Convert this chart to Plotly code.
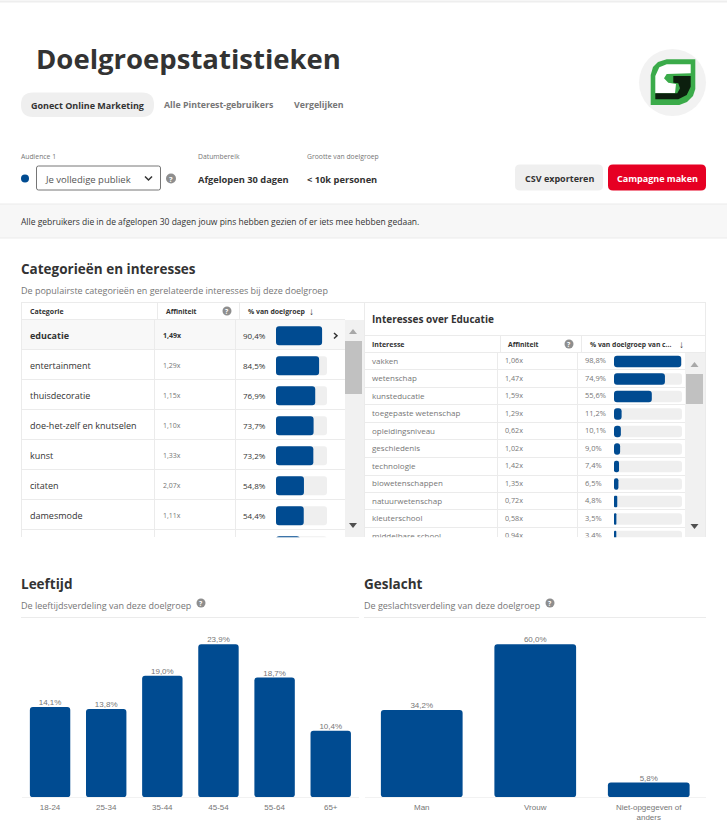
import plotly.graph_objects as go

W, H = 727, 840
FONT = "Open Sans"
CHART_FONT = "Liberation Sans"
BLUE = "#004B91"
TRACK = "#EFEFEF"
DARK = "#333333"
GREY = "#767676"
RULE = "#EBEBEB"

# chart values
age_labels = ["18-24", "25-34", "35-44", "45-54", "55-64", "65+"]
age_values = [14.1, 13.8, 19.0, 23.9, 18.7, 10.4]
gender_labels = ["Man", "Vrouw", "Niet-opgegeven of<br>anders"]
gender_values = [34.2, 60.0, 5.8]

categories = ["educatie", "entertainment", "thuisdecoratie", "doe-het-zelf en knutselen",
              "kunst", "citaten", "damesmode"]
category_affinity = ["1,49x", "1,29x", "1,15x", "1,10x", "1,33x", "2,07x", "1,11x"]
# the last one is the half hidden row at the bottom of the table
category_share = [90.4, 84.5, 76.9, 73.7, 73.2, 54.8, 54.4, 47.0]

interests = ["vakken", "wetenschap", "kunsteducatie", "toegepaste wetenschap", "opleidingsniveau",
             "geschiedenis", "technologie", "biowetenschappen", "natuurwetenschap", "kleuterschool",
             "middelbare school"]
interest_affinity = ["1,06x", "1,47x", "1,59x", "1,29x", "0,62x", "1,02x", "1,42x", "1,35x", "0,72x",
                     "0,58x", "0,94x"]
interest_share = [98.8, 74.9, 55.6, 11.2, 10.1, 9.0, 7.4, 6.5, 4.8, 3.5, 3.4]

shapes = []
annotations = []


def fx(x):
    return x / W


def fy(y):
    return 1 - y / H


def pct(v):
    return f"{v:.1f}%".replace(".", ",")


def path_of(points):
    return "M " + " L ".join(f"{fx(x):.5f},{fy(y):.5f}" for x, y in points) + " Z"


def rect(x0, y0, x1, y1, fill, border=None, r=0):
    if r:
        p = (f"M {fx(x0 + r)},{fy(y0)} L {fx(x1 - r)},{fy(y0)} Q {fx(x1)},{fy(y0)} {fx(x1)},{fy(y0 + r)} "
             f"L {fx(x1)},{fy(y1 - r)} Q {fx(x1)},{fy(y1)} {fx(x1 - r)},{fy(y1)} "
             f"L {fx(x0 + r)},{fy(y1)} Q {fx(x0)},{fy(y1)} {fx(x0)},{fy(y1 - r)} "
             f"L {fx(x0)},{fy(y0 + r)} Q {fx(x0)},{fy(y0)} {fx(x0 + r)},{fy(y0)} Z")
        shapes.append(dict(type="path", path=p, xref="paper", yref="paper", fillcolor=fill,
                           line=dict(color=border or fill, width=1 if border else 0), layer="below"))
    else:
        shapes.append(dict(type="rect", x0=fx(x0), x1=fx(x1), y0=fy(y0), y1=fy(y1), xref="paper", yref="paper",
                           fillcolor=fill, line=dict(color=border or fill, width=1 if border else 0),
                           layer="below"))


def rule(x0, y0, x1, y1, color=RULE, width=1, layer="below"):
    shapes.append(dict(type="line", x0=fx(x0), x1=fx(x1), y0=fy(y0), y1=fy(y1), xref="paper", yref="paper",
                       line=dict(color=color, width=width), layer=layer))


def circle(cx, cy, r, fill, layer="below"):
    shapes.append(dict(type="circle", x0=fx(cx - r), x1=fx(cx + r), y0=fy(cy - r), y1=fy(cy + r),
                       xref="paper", yref="paper", fillcolor=fill, line=dict(width=0), layer=layer))


def poly(points, fill, layer="below"):
    shapes.append(dict(type="path", path=path_of(points), xref="paper", yref="paper", fillcolor=fill,
                       line=dict(width=0), layer=layer))


def chevron(points, color=DARK, width=1.5):
    p = "M " + " L ".join(f"{fx(x):.5f},{fy(y):.5f}" for x, y in points)
    shapes.append(dict(type="path", path=p, xref="paper", yref="paper", line=dict(color=color, width=width)))


def label(x, y, text, size=9.5, color=DARK, bold=False, anchor="left", family=FONT):
    # annotations sit about a pixel right of their anchor
    if anchor == "left":
        x -= 1
    annotations.append(dict(x=fx(x), y=fy(y), xref="paper", yref="paper", showarrow=False,
                            text=f"<b>{text}</b>" if bold else text, xanchor=anchor, yanchor="middle",
                            align=anchor, borderpad=0,
                            font=dict(family=family, size=size, color=color)))


def help_icon(cx, cy, r=5):
    circle(cx, cy, r, "#8E8E8E")
    label(cx, cy, "?", size=r * 1.5, color="white", bold=True, anchor="center")


def pill_bars(fig, values, rows, xaxis, yaxis, color, thickness):
    # an explicit base makes plotly round both ends of the bar
    fig.add_bar(x=values, y=rows, base=[0] * len(values), orientation="h", width=thickness,
                marker=dict(color=color, cornerradius=3, line_width=0), xaxis=xaxis, yaxis=yaxis)


def column_bars(fig, names, values, xaxis, yaxis):
    fig.add_bar(x=names, y=values, base=[0] * len(values),
                marker=dict(color=BLUE, cornerradius=3.5, line_width=0), xaxis=xaxis, yaxis=yaxis)
    fig.add_scatter(x=names, y=values, text=[pct(v) for v in values], mode="text", textposition="top center",
                    cliponaxis=False, textfont=dict(family=CHART_FONT, size=8, color=GREY),
                    xaxis=xaxis, yaxis=yaxis)


def text_column(fig, x, rows, texts, xaxis, yaxis, size, colors):
    fig.add_scatter(x=[x] * len(texts), y=rows, text=texts, mode="text", textposition="middle right",
                    textfont=dict(family=FONT, size=size, color=colors), cliponaxis=True,
                    xaxis=xaxis, yaxis=yaxis)


fig = go.Figure()

# age and gender columns
column_bars(fig, age_labels, age_values, "x", "y")
column_bars(fig, gender_labels, gender_values, "x2", "y2")

# category table
cat_rows = list(range(len(category_share)))
cat_text_rows = [r + 0.03 for r in cat_rows[:7]]
pill_bars(fig, [100] * (len(category_share) - 1), cat_rows[1:], "x3", "y3", TRACK, 0.633)
pill_bars(fig, category_share, cat_rows, "x3", "y3", BLUE, 0.633)
name_colors = [DARK] * len(categories)
affinity_colors = [DARK] + [GREY] * (len(categories) - 1)
cat_names = [f"<b>{categories[0]}</b>"] + categories[1:]
cat_aff = [f"<b>{category_affinity[0]}</b>"] + category_affinity[1:]
text_column(fig, 30, cat_text_rows, cat_names, "x4", "y3", 9, name_colors)
text_column(fig, 163, cat_text_rows, cat_aff, "x4", "y3", 7, affinity_colors)
text_column(fig, 243, cat_text_rows, [pct(v) for v in category_share[:7]], "x4", "y3", 8, DARK)

# interest table
int_rows = list(range(len(interest_share)))
pill_bars(fig, [100] * len(interest_share), int_rows, "x5", "y5", TRACK, 0.65)
pill_bars(fig, interest_share, int_rows, "x5", "y5", BLUE, 0.65)
text_column(fig, 372, int_rows, interests, "x6", "y5", 8, GREY)
text_column(fig, 505, int_rows, interest_affinity, "x6", "y5", 7.2, GREY)
text_column(fig, 585, int_rows, [pct(v) for v in interest_share], "x6", "y5", 7.5, GREY)

# page header
rule(0, 1.5, W, 1.5, "#EEEEEE", 2)
label(36, 59, "Doelgroepstatistieken", size=27.5, bold=True)
rect(21, 92.5, 154, 117, "#EFEFEF", r=12)
label(31, 105, "Gonect Online Marketing", size=9, bold=True)
label(164, 105, "Alle Pinterest-gebruikers", size=8.8, color=GREY, bold=True)
label(294, 105, "Vergelijken", size=8.8, color=GREY, bold=True)

# logo
circle(672.5, 82.5, 33.5, "#F2F2F2")
poly([(695.3, 59.3), (666.7, 59.3), (658, 62), (653, 67), (650.7, 75), (650.7, 105), (679.3, 105), (687, 102),
      (693, 96), (695.3, 89)], "#3BAB4A")
poly([(690.7, 64.3), (666.7, 64.3), (659.3, 67.3), (655.3, 76), (655.3, 93.3), (675, 93.3), (676, 84),
      (668.3, 82.7), (664, 78.3), (666.7, 74), (690.7, 73.3)], "#FFFFFF")
poly([(673.3, 76), (690.7, 76), (690.7, 86.7), (686.7, 95), (678.3, 99.3), (655.3, 99.3), (655.3, 93.3),
      (677.3, 93.3), (680, 88.3), (678.3, 83.3), (673.3, 82.7)], "#0C1F0E")

# audience row
label(21, 156, "Audience 1", size=6.8, color=GREY)
label(198, 156, "Datumbereik", size=6.8, color=GREY)
label(307, 156, "Grootte van doelgroep", size=6.8, color=GREY)
circle(25, 178.5, 4, BLUE)
rect(36.5, 166, 160.5, 190, "white", border="#767676", r=2)
label(45, 179, "Je volledige publiek", size=9.5, color="#555555")
chevron([(145, 176.5), (148.5, 180), (152, 176.5)])
help_icon(171, 178.5)
label(198, 179, "Afgelopen 30 dagen", size=9.3, bold=True)
label(307, 179, "&lt; 10k personen", size=9.3, bold=True)
rect(515, 164.5, 603, 190.5, "#EFEFEF", r=5)
label(559, 178, "CSV exporteren", size=9, bold=True, anchor="center")
rect(608, 164.5, 706, 190.5, "#E60023", r=5)
label(657, 178, "Campagne maken", size=9, color="white", bold=True, anchor="center")

# description band
rect(0, 204, W, 238, "#F7F7F7")
rule(0, 204, W, 204)
rule(0, 238, W, 238)
label(21, 222, "Alle gebruikers die in de afgelopen 30 dagen jouw pins hebben gezien of er iets mee hebben gedaan.",
      size=8.5)

# category table frame
label(21, 269, "Categorieën en interesses", size=13.5, bold=True)
label(21, 290.5, "De populairste categorieën en gerelateerde interesses bij deze doelgroep", size=9, color=GREY)
rect(21, 320, 345, 349.3, "#F8F8F8")
rect(345, 320, 364, 537, "#F1F1F1")
rect(345, 341, 362, 394, "#C1C1C1")
poly([(349, 334), (353, 329), (357, 334)], "#A8A8A8")
poly([(349, 523), (353, 528), (357, 523)], "#505050")
rule(21, 302.5, 364, 302.5)
rule(21, 319.5, 345, 319.5)
rule(21.5, 302, 21.5, 537)
rule(157.5, 302.5, 157.5, 319.5)
rule(239.5, 302.5, 239.5, 319.5)
rule(154.5, 320, 154.5, 537)
rule(235.5, 320, 235.5, 537)
for y in [349.5, 379.5, 409.5, 439.5, 469.5, 499.5, 529.5]:
    rule(21, y, 345, y)
label(30, 311, "Categorie", size=7, bold=True)
label(166, 311, "Affiniteit", size=6.8, bold=True)
help_icon(227, 311, 4.5)
label(248, 311, "% van doelgroep", size=6.9, bold=True)
label(311, 311, "↓", size=10, bold=True, anchor="center")
chevron([(334, 333), (337, 335.7), (334, 338.5)])

# interest table frame
label(372, 319, "Interesses over Educatie", size=10, bold=True)
rect(685, 352.5, 705, 537, "#F1F1F1")
rect(686, 374, 703, 404, "#C1C1C1")
poly([(690.5, 367), (694.5, 362), (698.5, 367)], "#A8A8A8")
poly([(690.5, 524), (694.5, 529), (698.5, 524)], "#505050")
rule(365, 302.5, 705.5, 302.5)
rule(364.5, 302, 364.5, 537)
rule(705.5, 302, 705.5, 537)
rule(365, 335.5, 705.5, 335.5)
rule(365, 352.5, 705.5, 352.5)
rule(500.5, 335.5, 500.5, 352.5)
rule(581.5, 335.5, 581.5, 352.5)
rule(497.5, 352.5, 497.5, 537)
rule(577.5, 352.5, 577.5, 537)
for y in [369.5, 387.5, 404.5, 422.5, 439.5, 457.5, 475.5, 492.5, 509.5, 527.5]:
    rule(365, y, 685, y)
label(372, 344, "Interesse", size=7, bold=True)
label(508, 344, "Affiniteit", size=6.8, bold=True)
help_icon(569, 344, 4.5)
label(590, 344, "% van doelgroep van c...", size=6.8, bold=True)
label(681, 344, "↓", size=10, bold=True, anchor="center")

# lower section headings
label(21, 584, "Leeftijd", size=13.5, bold=True)
label(21, 605, "De leeftijdsverdeling van deze doelgroep", size=9, color=GREY)
help_icon(201, 603, 4.5)
rule(21, 617.5, 359, 617.5)
label(364, 584, "Geslacht", size=13.5, bold=True)
label(364, 605, "De geslachtsverdeling van deze doelgroep", size=9, color=GREY)
help_icon(550, 603, 4.5)
rule(364, 617.5, 706, 617.5)

hidden = dict(visible=False, fixedrange=True)
base_axis = dict(showgrid=False, zeroline=False, showline=True, linecolor="#F2F2F2", ticks="", fixedrange=True,
                 ticklabelstandoff=2, tickfont=dict(family=CHART_FONT, size=8, color=GREY))

fig.update_layout(
    width=W, height=H, margin=dict(l=0, r=0, t=0, b=0, autoexpand=False),
    paper_bgcolor="white", plot_bgcolor="rgba(0,0,0,0)",
    showlegend=False, hovermode=False, barmode="overlay", bargap=0.28,
    shapes=shapes, annotations=annotations,
    xaxis=dict(base_axis, domain=[fx(22), fx(358.8)], anchor="y", type="category", categoryarray=age_labels),
    yaxis=dict(hidden, domain=[fy(797.3), fy(637.3)], range=[0, 160 / (153 / 23.9)], anchor="x"),
    xaxis2=dict(base_axis, domain=[fx(365), fx(705.5)], anchor="y2", type="category"),
    yaxis2=dict(hidden, domain=[fy(797.3), fy(637.3)], range=[0, 160 / (153 / 60.0)], anchor="x2"),
    xaxis3=dict(hidden, domain=[fx(276), fx(327)], range=[0, 100], anchor="y3"),
    yaxis3=dict(hidden, domain=[fy(537.3), fy(320)], range=[(537.3 - 335.7) / 30, (320 - 335.7) / 30], anchor="x3"),
    xaxis4=dict(hidden, domain=[fx(21), fx(345)], range=[21, 345], anchor="y3"),
    xaxis5=dict(hidden, domain=[fx(614), fx(682)], range=[0, 100], anchor="y5"),
    yaxis5=dict(hidden, domain=[fy(537.3), fy(352.5)], range=[(537.3 - 361.5) / 17.5, (352.5 - 361.5) / 17.5],
                anchor="x5"),
    xaxis6=dict(hidden, domain=[fx(365), fx(685)], range=[365, 685], anchor="y5"),
)

fig.write_html("out.html", config=dict(displayModeBar=False), post_script="document.body.style.margin='0';")
